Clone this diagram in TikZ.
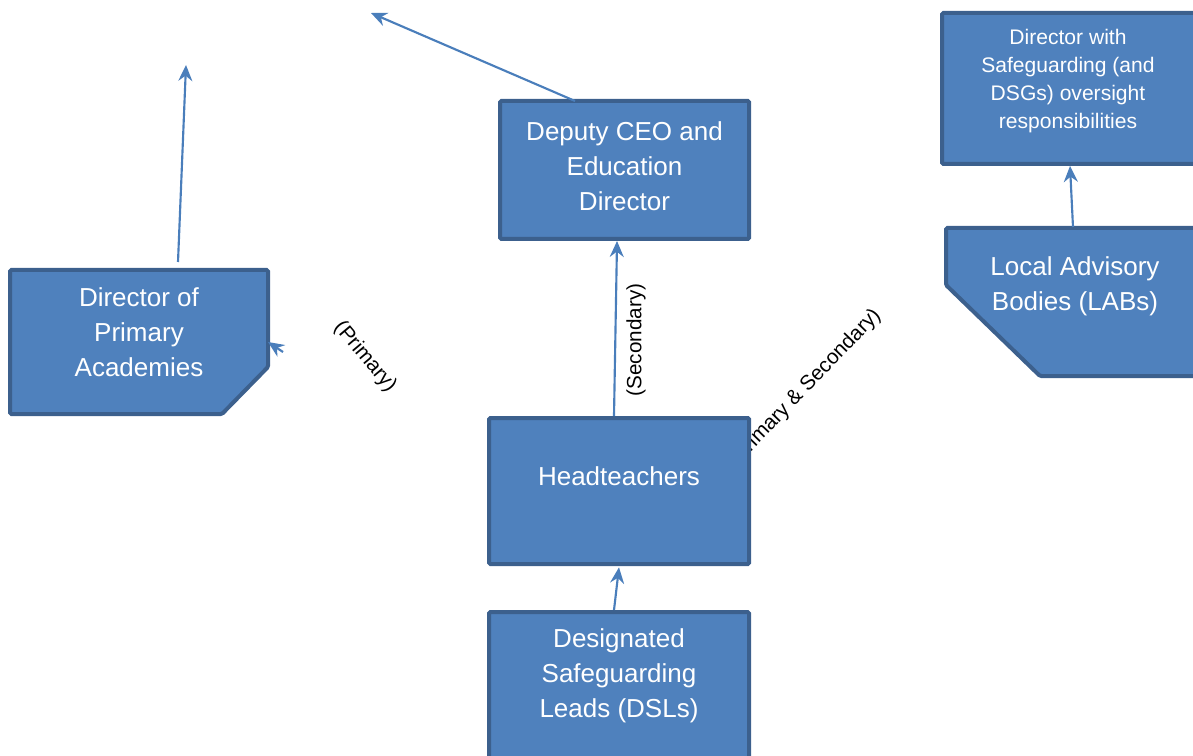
\documentclass[tikz,border=0pt]{standalone}
\usepackage{fontspec}
\setmainfont{Liberation Sans}
\usetikzlibrary{arrows.meta}
\definecolor{boxfill}{RGB}{79,129,189}
\definecolor{boxline}{RGB}{60,96,141}
\definecolor{arrowc}{RGB}{74,126,187}
\tikzset{
  boxstyle/.style={draw=boxline, fill=boxfill, line width=3pt, rounded corners=1pt, inner sep=0pt},
  bigtext/.style={text=white, align=center, font=\fontsize{19.5}{26.25}\selectfont},
  smalltext/.style={text=white, align=center, font=\fontsize{15.8}{21}\selectfont},
  lbl/.style={text=black, font=\fontsize{15.5}{18}\selectfont, inner sep=0pt},
  conn/.style={draw=arrowc, line width=1.6pt, -{Stealth[length=12pt,width=10.5pt,inset=4pt]}}
}
\begin{document}
\begin{tikzpicture}[x=0.75pt,y=-0.75pt]
\useasboundingbox (0,0) rectangle (1193,756);
\clip (0,0) rectangle (1193,756);

% label partially hidden behind Headteachers
\node[lbl, rotate=46] (lblps) at (805,388) {(Primary \& Secondary)};
\node[lbl, rotate=-50] (lblp) at (365,357) {(Primary)};
\node[lbl, rotate=90] (lbls) at (636,340) {(Secondary)};

% Deputy CEO
\node[boxstyle, minimum width=186.75pt, minimum height=103.5pt] (dep) at (624.5,170) {};
\node[bigtext] (deptext) at (624.5,166) {Deputy CEO and\\Education\\Director};

% Headteachers
\node[boxstyle, minimum width=195pt, minimum height=109.5pt] (ht) at (619,491) {};
\node[bigtext] (httext) at (619,476) {Headteachers};

% DSLs
\node[boxstyle, minimum width=195pt, minimum height=120pt] (dsl) at (619,692) {};
\node[bigtext] (dsltext) at (619,676) {Designated\\Safeguarding\\Leads (DSLs)};

% Director with Safeguarding
\node[boxstyle, minimum width=201pt, minimum height=113.25pt] (dws) at (1076,88.5) {};
\node[smalltext] (dwstext) at (1068,81) {Director with\\Safeguarding (and\\DSGs) oversight\\responsibilities};

% Director of Primary Academies (cut corner)
\draw[boxstyle] (10,270) -- (268,270) -- (268,367) -- (222,414) -- (10,414) -- cycle;
\node[bigtext] (dpa) at (139,332) {Director of\\Primary\\Academies};
\coordinate (dpatop) at (178,262);
\coordinate (dparight) at (268,342);

% Local Advisory Bodies (cut corner)
\draw[boxstyle] (946,228) -- (1210,228) -- (1210,376) -- (1040,376) -- (946,285) -- cycle;
\node[bigtext] (lab) at (1075,286) {Local Advisory\\Bodies (LABs)};
\coordinate (labtop) at (1073,227);

% free ends
\coordinate (deptop) at (575,101);
\coordinate (endA) at (371,13);
\coordinate (endB) at (186,65);
\coordinate (startP) at (283,352);

% connectors
\draw[conn] (deptop) -- (endA);
\draw[conn] (dpatop) -- (endB);
\draw[conn] (startP) -- (dparight);
\draw[conn] ([xshift=-3.75pt]ht.north) -- ([xshift=-5.6pt]dep.south);
\draw[conn] ([xshift=-3.75pt]dsl.north) -- ([yshift=-1pt]ht.south);
\draw[conn] (labtop) -- ([xshift=-4.5pt]dws.south);
\end{tikzpicture}
\end{document}
